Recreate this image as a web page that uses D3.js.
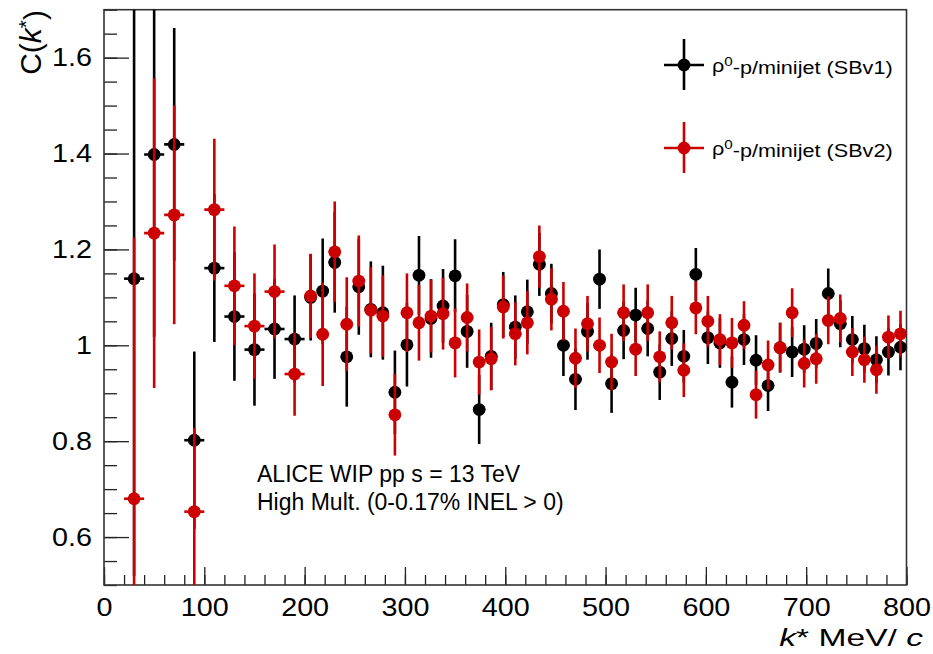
<!DOCTYPE html>
<html>
<head>
<meta charset="utf-8">
<script src="https://cdn.jsdelivr.net/npm/d3@7"></script>
<style>
  body { margin: 0; background: #fff; }
  svg { display: block; font-family: "Liberation Sans", Arial, Helvetica, sans-serif; }
  .tick text { font-size: 25px; fill: #000; }
  .domain { display: none; }
</style>
</head>
<body>
<svg id="chart" width="933" height="654"></svg>
<script>
// ── Data (k* bin centres in MeV/c, half widths, C(k*) and errors) ──
const kStar = [30, 50, 70, 90, 110, 130, 150, 170, 190,
  206, 218, 230, 242, 254, 266, 278, 290, 302, 314,
  326, 338, 350, 362, 374, 386, 398, 410, 422, 434,
  446, 458, 470, 482, 494, 506, 518, 530, 542, 554,
  566, 578, 590, 602, 614, 626, 638, 650, 662, 674,
  686, 698, 710, 722, 734, 746, 758, 770, 782, 794];
const binHalf = [10, 10, 10, 10, 10, 10, 10, 10, 10,
  6, 6, 6, 6, 6, 6, 6, 6, 6, 6, 6, 6, 6, 6, 6, 6, 6, 6, 6, 6,
  6, 6, 6, 6, 6, 6, 6, 6, 6, 6, 6, 6, 6, 6, 6, 6, 6, 6, 6, 6,
  6, 6, 6, 6, 6, 6, 6, 6, 6, 6];

const sbv1 = [1.139, 1.398, 1.419, 0.802, 1.161, 1.060, 0.991, 1.034, 1.013,
  1.100, 1.113, 1.173, 0.976, 1.122, 1.075, 1.068, 0.902, 1.001, 1.146,
  1.056, 1.082, 1.145, 1.029, 0.866, 0.977, 1.085, 1.038, 1.070, 1.169,
  1.108, 1.000, 0.929, 1.029, 1.138, 0.920, 1.031, 1.063, 1.035, 0.944,
  1.014, 0.977, 1.148, 1.016, 1.005, 0.923, 1.012, 0.969, 0.916, 0.995,
  0.986, 0.992, 1.004, 1.108, 1.045, 1.012, 0.993, 0.970, 0.986, 0.996];
const sbv1Err = [0.62, 0.38, 0.243, 0.185, 0.154, 0.134, 0.117, 0.104, 0.091,
  0.09, 0.11, 0.105, 0.104, 0.10, 0.10, 0.098, 0.087, 0.087, 0.082,
  0.082, 0.077, 0.076, 0.076, 0.072, 0.07, 0.068, 0.066, 0.067, 0.066,
  0.062, 0.064, 0.064, 0.059, 0.062, 0.061, 0.06, 0.057, 0.058, 0.058,
  0.057, 0.055, 0.055, 0.055, 0.052, 0.053, 0.053, 0.052, 0.053, 0.052,
  0.052, 0.05, 0.051, 0.052, 0.049, 0.049, 0.05, 0.049, 0.049, 0.048];

const sbv2 = [0.680, 1.234, 1.272, 0.653, 1.283, 1.124, 1.040, 1.112, 0.940,
  1.103, 1.023, 1.195, 1.044, 1.134, 1.073, 1.061, 0.855, 1.068, 1.047,
  1.061, 1.066, 1.005, 1.058, 0.965, 0.972, 1.080, 1.024, 1.047, 1.185,
  1.096, 1.071, 0.973, 1.045, 1.000, 0.965, 1.068, 0.992, 1.068, 0.976,
  1.047, 0.948, 1.078, 1.050, 1.012, 1.005, 1.042, 0.897, 0.959, 0.995,
  1.068, 0.962, 0.972, 1.052, 1.056, 0.986, 0.970, 0.949, 1.017, 1.024];
const sbv2Err = [0.545, 0.323, 0.228, 0.175, 0.148, 0.124, 0.11, 0.098, 0.087,
  0.088, 0.108, 0.105, 0.098, 0.095, 0.09, 0.085, 0.085, 0.082, 0.079,
  0.076, 0.075, 0.072, 0.071, 0.068, 0.066, 0.066, 0.066, 0.066, 0.065,
  0.065, 0.061, 0.062, 0.058, 0.058, 0.059, 0.059, 0.056, 0.059, 0.053,
  0.056, 0.056, 0.055, 0.053, 0.053, 0.052, 0.05, 0.05, 0.051, 0.052,
  0.051, 0.05, 0.052, 0.05, 0.05, 0.05, 0.048, 0.05, 0.045, 0.048];

const xMajor = [0, 100, 200, 300, 400, 500, 600, 700, 800];
const yMajor = [0.6, 0.8, 1.0, 1.2, 1.4, 1.6];

const seriesList = [
  { name: "SBv1", values: sbv1, errors: sbv1Err, color: "#000000" },
  { name: "SBv2", values: sbv2, errors: sbv2Err, color: "#cc0000" }
];

// ── Frame ──
const frame = { left: 104, right: 906.5, top: 9.7, bottom: 585 };
const labelStretch = 1.15;   // ROOT labels come out a bit wider than Arial

const svg = d3.select("#chart");

const x = d3.scaleLinear().domain([0, 800]).range([frame.left, frame.right]);
const y = d3.scaleLinear().domain([0.5, 1.7]).range([frame.bottom, frame.top]);

svg.append("defs").append("clipPath").attr("id", "plotclip")
  .append("rect")
  .attr("x", frame.left).attr("y", frame.top)
  .attr("width", frame.right - frame.left).attr("height", frame.bottom - frame.top);

// ── Axes: minor ticks first, then major with labels ──
const xMinor = d3.range(0, 801, 20);
const yMinor = d3.range(0.5, 1.701, 0.05);

svg.append("g")
  .attr("transform", `translate(0,${frame.bottom})`)
  .call(d3.axisBottom(x).tickValues(xMinor).tickSize(-10).tickFormat(""))
  .selectAll("line").attr("stroke", "#222").attr("stroke-width", 1.3);

svg.append("g")
  .attr("transform", `translate(0,${frame.bottom})`)
  .call(d3.axisBottom(x).tickValues(xMajor).tickSize(-18).tickPadding(13).tickFormat(d3.format("d")))
  .call(g => g.selectAll("line").attr("stroke", "#222").attr("stroke-width", 1.3))
  .call(g => g.selectAll("text").attr("transform", `scale(${labelStretch},1)`));

svg.append("g")
  .attr("transform", `translate(${frame.left},0)`)
  .call(d3.axisLeft(y).tickValues(yMinor).tickSize(-13).tickFormat(""))
  .selectAll("line").attr("stroke", "#222").attr("stroke-width", 1.3);

svg.append("g")
  .attr("transform", `translate(${frame.left},0)`)
  .call(d3.axisLeft(y).tickValues(yMajor).tickSize(-25).tickPadding(12).tickFormat(d3.format("~g")))
  .call(g => g.selectAll("line").attr("stroke", "#222").attr("stroke-width", 1.3))
  .call(g => g.selectAll("text")
    .attr("x", -12 / labelStretch)
    .attr("transform", `scale(${labelStretch},1)`));

// frame box
svg.append("rect")
  .attr("x", frame.left).attr("y", frame.top)
  .attr("width", frame.right - frame.left).attr("height", frame.bottom - frame.top)
  .attr("fill", "none").attr("stroke", "#333").attr("stroke-width", 1.6);

// ── Data points with error bars ──
const plot = svg.append("g").attr("clip-path", "url(#plotclip)");
const markerR = 6.4;

seriesList.forEach(s => {
  const pts = kStar.map((k, i) => ({ k, h: binHalf[i], v: s.values[i], e: s.errors[i] }));
  const g = plot.append("g").attr("class", "series-" + s.name);

  g.selectAll(".ebar-y")
    .data(pts)
    .join("line")
    .attr("x1", d => x(d.k)).attr("x2", d => x(d.k))
    .attr("y1", d => y(d.v - d.e)).attr("y2", d => y(d.v + d.e))
    .attr("stroke", s.color).attr("stroke-width", 2.6);

  g.selectAll(".ebar-x")
    .data(pts)
    .join("line")
    .attr("x1", d => x(d.k - d.h)).attr("x2", d => x(d.k + d.h))
    .attr("y1", d => y(d.v)).attr("y2", d => y(d.v))
    .attr("stroke", s.color).attr("stroke-width", 2.6);

  g.selectAll("circle")
    .data(pts)
    .join("circle")
    .attr("cx", d => x(d.k)).attr("cy", d => y(d.v))
    .attr("r", markerR)
    .attr("fill", s.color);
});

// ── Axis titles ──
const yTitle = svg.append("text")
  .attr("transform", "translate(41,10) rotate(-90)")
  .attr("text-anchor", "end")
  .style("font-size", "30px");
yTitle.append("tspan").text("C(");
yTitle.append("tspan").style("font-style", "italic").text("k");
yTitle.append("tspan").attr("dy", "-0.4em").style("font-size", "21px").text("*");
yTitle.append("tspan").attr("dy", "0.4em").text(")");

const xTitle = svg.append("text")
  .attr("transform", "translate(923,646) scale(1.4,1)")
  .attr("text-anchor", "end")
  .style("font-size", "24px");
xTitle.append("tspan").style("font-style", "italic").text("k");
xTitle.append("tspan").text("* MeV/ ");
xTitle.append("tspan").style("font-style", "italic").text("c");

// ── Legend ──
const legendRows = [
  { label: "SBv1", color: "#000000", cy: 65 },
  { label: "SBv2", color: "#cc0000", cy: 148 }
];
const legend = svg.append("g");
legendRows.forEach(r => {
  legend.append("line").attr("x1", 664).attr("x2", 704).attr("y1", r.cy).attr("y2", r.cy)
    .attr("stroke", r.color).attr("stroke-width", 2.6);
  legend.append("line").attr("x1", 684).attr("x2", 684).attr("y1", r.cy - 26).attr("y2", r.cy + 25)
    .attr("stroke", r.color).attr("stroke-width", 2.6);
  legend.append("circle").attr("cx", 684).attr("cy", r.cy).attr("r", markerR).attr("fill", r.color);
  const t = legend.append("text")
    .attr("transform", `translate(712,${r.cy + 7}) scale(1.17,1)`)
    .style("font-size", "18.5px");
  t.append("tspan").text("ρ");
  t.append("tspan").attr("dy", "-0.45em").style("font-size", "13px").text("0");
  t.append("tspan").attr("dy", "0.45em").text(`-p/minijet (${r.label})`);
});

// ── Annotation ──
svg.append("text").attr("x", 257).attr("y", 482).style("font-size", "23px")
  .text("ALICE WIP pp s = 13 TeV");
svg.append("text").attr("x", 257).attr("y", 510).style("font-size", "23px")
  .text("High Mult. (0-0.17% INEL > 0)");
</script>
</body>
</html>
